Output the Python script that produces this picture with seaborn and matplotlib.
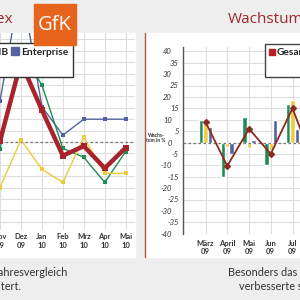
import numpy as np
import pandas as pd
import matplotlib
matplotlib.use("Agg")
import matplotlib.pyplot as plt
import seaborn as sns
from matplotlib.patches import Rectangle
from matplotlib.lines import Line2D

# ---------------- data ----------------
left_months = ["Nov\n09", "Dez\n09", "Jan\n10", "Feb\n10", "Mrz\n10", "Apr\n10", "Mai\n10"]
left_gesamt = [0.5, 35, 14, -6, -1.8, -11.5, -2.5]
left_consumer = [-3, 40, 25, -2.8, -6.7, -17.7, -4.2]
left_smb = [-20, 1, -12, -17.7, 2, -13.7, -13.7]
left_enterprise = [18, 70, 15.5, 3, 10, 10, 10]

right_months = ["März\n09", "April\n09", "Mai\n09", "Jun\n09", "Jul\n09", "Aug\n09"]
right_consumer = [10, -15, 11, -10, 17]
right_smb = [9, -2, -2.3, -3.2, 18.5]
right_enterprise = [7, -5, 1, 10, 6]
right_gesamt = [9, -10.3, 6, -5, 15, -10]

colors = {"Consumer": "#1f8c55", "SMB": "#eccb3c", "Enterprise": "#5363a0", "Gesamt": "#a8232b"}
red_right = "#8c2a22"

W = H = 300
def fx(x): return x / W
def fy(y): return 1 - y / H

fig = plt.figure(figsize=(3, 3), dpi=100)
fig.patch.set_facecolor("#eeeeee")
sns.set_style("white")
plt.rcParams["font.family"] = ["Lato", "DejaVu Sans"]

# panels
fig.add_artist(Rectangle((fx(0), fy(257)), fx(135), (257 - 33) / H,
                         transform=fig.transFigure, color="white", zorder=-5))
fig.add_artist(Rectangle((fx(146), fy(257)), fx(154), (257 - 33) / H,
                         transform=fig.transFigure, color="white", zorder=-5))
fig.add_artist(Line2D([fx(145), fx(145)], [fy(33), fy(257)], transform=fig.transFigure,
                      color="#b3583f", lw=1.0, zorder=-4))

grid_col = "#dedede"

# ---------------- left chart ----------------
axl = fig.add_axes([fx(0), fy(230), fx(135), (230 - 33) / H])
axl.set_facecolor("white")
step_l = 125.7 / 6
axl.set_xlim(0, 135 / step_l)
axl.set_ylim(-(230 - 142) / 2.28, (142 - 33) / 2.28)
xi = np.arange(len(left_months))
left_data = {"Enterprise": left_enterprise, "Consumer": left_consumer,
             "Gesamt": left_gesamt, "SMB": left_smb}
for name in ["Enterprise", "Consumer", "Gesamt", "SMB"]:
    df = pd.DataFrame({"x": xi, "y": left_data[name]})
    thick = name == "Gesamt"
    sns.lineplot(data=df, x="x", y="y", ax=axl, color=colors[name],
                 lw=3.2 if thick else 1.0, marker="s",
                 markersize=4.5 if thick else 2.8, markeredgewidth=0,
                 legend=False, zorder=5 if thick else 4)
axl.axhline(0, color="#777777", lw=0.9, ls=(0, (2, 2)), zorder=3)
axl.set_xticks(xi, labels=left_months)
axl.set_yticks(np.arange(-35, 50, 5))
axl.tick_params(axis="y", labelleft=False, length=0)
axl.tick_params(axis="x", length=0, pad=2.5, labelsize=5.5, labelcolor="#333333")
for t in axl.get_xticklabels():
    t.set_fontweight("bold")
    t.set_linespacing(1.25)
axl.grid(True, color=grid_col, lw=0.8)
for s in axl.spines.values():
    s.set_visible(False)
axl.set_xlabel("")
axl.set_ylabel("")

handles_l = [Line2D([], [], marker="s", ls="none", color=colors[n], markersize=5.3) for n in
             ["Consumer", "Gesamt", "SMB", "Enterprise"]]
leg = axl.legend(handles_l, ["Consumer", "Gesamt", "SMB", "Enterprise"], ncol=3,
                 loc="upper right", bbox_to_anchor=(fx(73), fy(43)),
                 bbox_transform=fig.transFigure, borderaxespad=0, frameon=True,
                 fancybox=False, framealpha=1, edgecolor="#333333", borderpad=0.45,
                 handlelength=0.6, handletextpad=0.25, columnspacing=0.3,
                 labelspacing=0.6, prop={"size": 7.4, "weight": "bold"})
leg.get_frame().set_linewidth(1.0)
leg.set_zorder(20)
for t in leg.get_texts():
    t.set_color("#222222")

# ---------------- right chart ----------------
step_r = 21.75
x0_r = 205.5
axr = fig.add_axes([fx(183), fy(234), (330 - 183) / W, (234 - 47) / H])
axr.set_facecolor("white")

rows = []
for name, vals in [("Consumer", right_consumer), ("SMB", right_smb), ("Enterprise", right_enterprise)]:
    for m, v in zip(right_months, vals):
        rows.append({"Monat": m, "Wert": v, "Serie": name})
bars = pd.DataFrame(rows)
sns.barplot(data=bars, x="Monat", y="Wert", hue="Serie", order=right_months,
            hue_order=["Consumer", "SMB", "Enterprise"], palette=colors,
            width=0.6, saturation=1, errorbar=None, legend=False, ax=axr, zorder=3)
line_df = pd.DataFrame({"Monat": right_months, "Wert": right_gesamt})
sns.pointplot(data=line_df, x="Monat", y="Wert", order=right_months, color=red_right,
              markers="D", markersize=3, linewidth=1.3, ax=axr, zorder=5)
axr.axhline(0, color="#777777", lw=0.9, ls=(0, (2, 2)), zorder=4)
axr.set_xlim((183 - x0_r) / step_r, (330 - x0_r) / step_r)
axr.set_ylim(-(234 - 142.5) / 2.28, (142.5 - 47) / 2.28)

major = list(range(-40, 41, 10))
minor = [v for v in range(-35, 40, 5) if v % 10 != 0]
axr.set_yticks(major, labels=[str(v) for v in major])
axr.set_yticks(minor, labels=[str(v) for v in minor], minor=True)
axr.tick_params(axis="y", which="major", length=0, pad=8, labelsize=5.5, labelcolor="#333333")
axr.tick_params(axis="y", which="minor", length=0, pad=3, labelsize=5.5, labelcolor="#333333")
for t in axr.get_yticklabels(which="both"):
    t.set_fontstyle("italic")
axr.set_xticks(range(len(right_months)), labels=right_months)
axr.tick_params(axis="x", length=0, pad=4, labelsize=5.5, labelcolor="#333333")
for t in axr.get_xticklabels():
    t.set_fontweight("bold")
    t.set_linespacing(1.25)
axr.grid(True, which="both", axis="y", color=grid_col, lw=0.8, zorder=0)
axr.grid(True, which="major", axis="x", color=grid_col, lw=0.8, zorder=0)
axr.set_axisbelow(True)
for k, s in axr.spines.items():
    s.set_visible(k == "left")
axr.spines["left"].set_color("#555555")
axr.spines["left"].set_linewidth(1.0)
axr.set_xlabel("")
axr.set_ylabel("")

handles_r = [Line2D([], [], marker="s", ls="none", color="#b82025", markersize=5),
             Line2D([], [], ls="none")]
legr = axr.legend(handles_r, ["Gesamt", " "], ncol=1, loc="upper left",
                  bbox_to_anchor=(fx(265), fy(44)), bbox_transform=fig.transFigure,
                  borderaxespad=0, frameon=True, fancybox=False, framealpha=1,
                  edgecolor="#444444", borderpad=0.4, handlelength=0.6,
                  handletextpad=0.12, labelspacing=0.7,
                  prop={"size": 7.3, "weight": "bold"})
legr.get_frame().set_linewidth(1.0)
for t in legr.get_texts():
    t.set_color("#222222")

fig.text(fx(156), fy(138), "Wachs-\ntum in %", fontsize=3.6, fontweight="bold",
         ha="center", va="center", color="#333333", linespacing=1.1)

# ---------------- header & texts ----------------
fig.text(fx(13), fy(23), "Index", ha="right", va="baseline", fontsize=11,
         color="#a0282d", family=["Open Sans", "DejaVu Sans"])
fig.text(fx(228), fy(23), "Wachstum", ha="left", va="baseline", fontsize=11,
         color="#a0282d", family=["Open Sans", "DejaVu Sans"])
fig.add_artist(Rectangle((fx(34), fy(45)), fx(42), (45 - 4) / H, transform=fig.transFigure,
                         color="#e6641c", zorder=30))
fig.text(fx(55), fy(25), "GfK", ha="center", va="center", fontsize=14.5, color="white",
         family=["Open Sans", "DejaVu Sans"], zorder=31)

body = dict(fontsize=7.8, color="#333333", family=["Lato", "DejaVu Sans"], va="center")
fig.text(fx(67), fy(273), "im Vorjahresvergleich", ha="right", **body)
fig.text(fx(22), fy(287), "erweitert.", ha="right", **body)
fig.text(fx(228), fy(273), "Besonders das Gesamtergebnis", ha="left", **body)
fig.text(fx(239), fy(287), "verbesserte sich", ha="left", **body)

fig.savefig("out.png", dpi=100)
